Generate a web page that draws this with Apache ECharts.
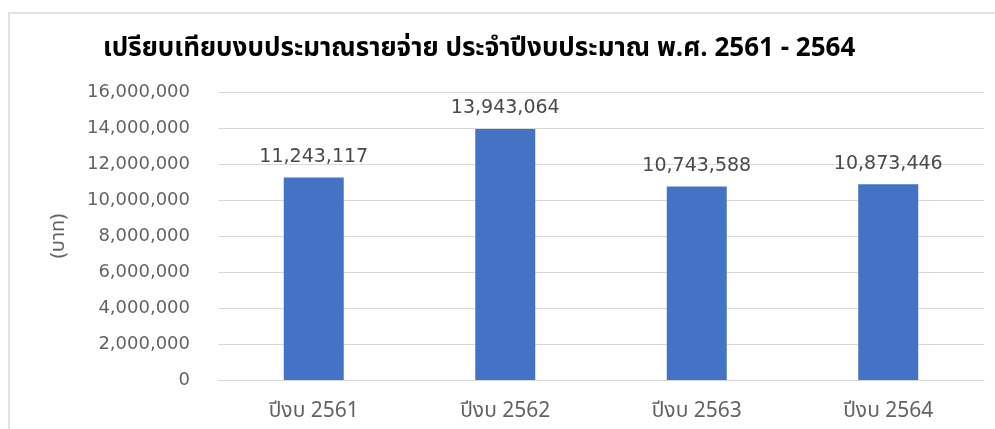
<!DOCTYPE html>
<html>
<head>
<meta charset="utf-8">
<script src="https://cdn.jsdelivr.net/npm/echarts@6/dist/echarts.min.js"></script>
<style>
  html, body { margin: 0; padding: 0; background: #fff; }
  #budgetChart { width: 995px; height: 429px; }
</style>
</head>
<body>
<div id="budgetChart"></div>
<script>
// ข้อมูลงบประมาณรายจ่าย
var years = ['ปีงบ 2561', 'ปีงบ 2562', 'ปีงบ 2563', 'ปีงบ 2564']
var budgetValues = [11243117, 13943064, 10743588, 10873446]
var yMax = 16000000
var yStep = 2000000

var thaiFont = '"Noto Sans Thai", "Leelawadee UI", Tahoma, "DejaVu Sans", sans-serif'
var numFont = '"DejaVu Sans", Verdana, sans-serif'

function fmt (v) {
  return Number(v).toLocaleString('en-US')
}

var chart = echarts.init(document.getElementById('budgetChart'))
chart.setOption({
  animation: false,
  backgroundColor: '#fff',
  title: {
    text: 'เปรียบเทียบงบประมาณรายจ่าย ประจำปีงบประมาณ พ.ศ. 2561 - 2564',
    left: 98,
    top: 33,
    textStyle: {
      fontFamily: thaiFont,
      fontSize: 26,
      fontWeight: 'bold',
      color: '#000'
    }
  },
  graphic: [
    {
      type: 'rect',
      shape: { x: 9, y: 13, width: 1000, height: 430 },
      style: { fill: 'none', stroke: '#d9d9d9', lineWidth: 1.5 },
      silent: true
    }
  ],
  grid: {
    left: 218,
    right: 11,
    top: 92,
    bottom: 49
  },
  xAxis: {
    type: 'category',
    data: years,
    axisTick: { show: false },
    axisLine: { lineStyle: { color: '#d9d9d9', width: 1 } },
    axisLabel: {
      margin: 22,
      fontFamily: thaiFont,
      fontSize: 21,
      color: '#636363'
    }
  },
  yAxis: {
    type: 'value',
    min: 0,
    max: yMax,
    interval: yStep,
    name: '(บาท)',
    nameLocation: 'middle',
    nameRotate: 90,
    nameGap: 148,
    nameTextStyle: {
      fontFamily: thaiFont,
      fontSize: 20,
      color: '#636363'
    },
    axisLine: { show: false },
    axisTick: { show: false },
    splitLine: { lineStyle: { color: '#d9d9d9', width: 1 } },
    axisLabel: {
      margin: 28,
      fontFamily: numFont,
      fontSize: 18,
      color: '#636363',
      formatter: fmt
    }
  },
  series: [
    {
      type: 'bar',
      data: budgetValues,
      barWidth: 60,
      itemStyle: { color: '#4472c4' },
      label: {
        show: true,
        position: 'top',
        distance: 11,
        fontFamily: numFont,
        fontSize: 19,
        color: '#4a4a4a',
        formatter: function (p) { return fmt(p.value) }
      }
    }
  ]
})
</script>
</body>
</html>
